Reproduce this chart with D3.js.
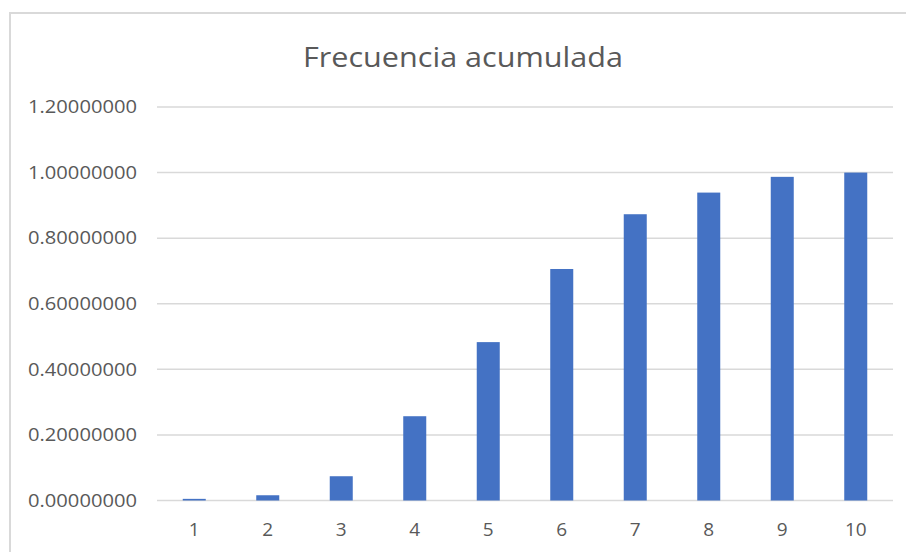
<!DOCTYPE html>
<html><head><meta charset="utf-8">
<script src="https://cdn.jsdelivr.net/npm/d3@7"></script>
<style>body{margin:0;background:#fff}svg{display:block}text{font-family:"Open Sans","Noto Sans",sans-serif}</style>
</head><body>
<script>
const categories = ["1","2","3","4","5","6","7","8","9","10"];
const values = [0.005, 0.016, 0.074, 0.257, 0.483, 0.706, 0.873, 0.939, 0.987, 1.0];
const yTicks = [0, 0.2, 0.4, 0.6, 0.8, 1.0, 1.2];
const title = "Frecuencia acumulada";

const W = 906, H = 552;
const svg = d3.select("body").append("svg").attr("width", W).attr("height", H);

// chart border (extends beyond right/bottom)
svg.append("rect").attr("x", 10).attr("y", 13).attr("width", 920).attr("height", 560)
  .attr("fill", "#fff").attr("stroke", "#d9d9d9").attr("stroke-width", 2);

const x = d3.scaleBand().domain(categories).range([157.5, 892.5]).paddingInner(0.687).paddingOuter(0.3435);
const y = d3.scaleLinear().domain([0, 1.2]).range([500.5, 107]);

svg.append("text").attr("x", 463).attr("y", 67).attr("text-anchor", "middle")
  .attr("font-size", 28).attr("fill", "#595959")
  .attr("textLength", 320).attr("lengthAdjust", "spacingAndGlyphs").text(title);

const grid = svg.append("g");
grid.selectAll("line").data(yTicks).join("line")
  .attr("x1", 157).attr("x2", 893)
  .attr("y1", d => y(d)).attr("y2", d => y(d))
  .attr("stroke", "#d9d9d9").attr("stroke-width", 1.5);

const yAxis = d3.axisLeft(y).tickValues(yTicks).tickFormat(d3.format(".8f")).tickSize(0).tickPadding(0);
const gy = svg.append("g").attr("transform", "translate(137,0)").call(yAxis);
gy.select(".domain").remove();
gy.selectAll("text").attr("font-size", 18).attr("fill", "#595959")
  .attr("font-family", '"Open Sans","Noto Sans",sans-serif')
  .attr("textLength", 109).attr("lengthAdjust", "spacingAndGlyphs");

svg.append("g").selectAll("rect").data(values).join("rect")
  .attr("x", (d, i) => x(categories[i])).attr("width", x.bandwidth())
  .attr("y", d => y(d)).attr("height", d => y(0) - y(d))
  .attr("fill", "#4472C4");

const xAxis = d3.axisBottom(x).tickSize(0).tickPadding(0);
const gx = svg.append("g").attr("transform", "translate(0,522)").call(xAxis);
gx.select(".domain").remove();
gx.selectAll("text").attr("font-size", 19).attr("fill", "#595959")
  .attr("font-family", '"Open Sans","Noto Sans",sans-serif');
</script>
</body></html>
